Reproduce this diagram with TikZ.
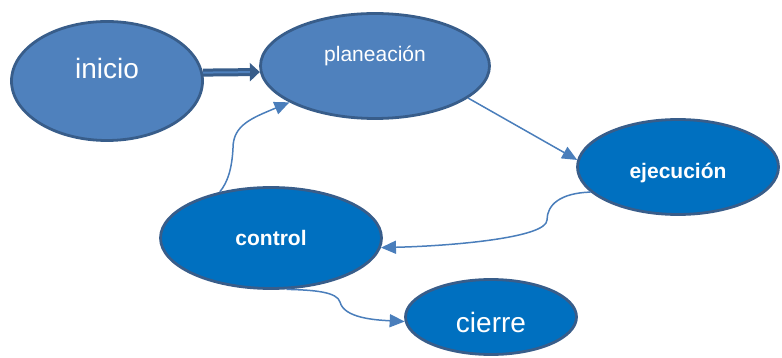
\documentclass[tikz,border=0pt]{standalone}
\usepackage{fontspec}
\setmainfont{Liberation Sans}
\usetikzlibrary{shapes.geometric}
\usetikzlibrary{arrows.meta}

\definecolor{lightphase}{HTML}{4F81BD}
\definecolor{darkphase}{HTML}{0070C0}
\definecolor{phaseborder}{HTML}{385D8A}
\definecolor{flowline}{HTML}{4A7EBB}

\begin{document}
\begin{tikzpicture}[x=1pt,y=-1pt]
\tikzset{phase/.style={ellipse, draw=phaseborder, line width=2.8pt, inner sep=0pt}}
\tikzset{softphase/.style={phase, fill=lightphase}}
\tikzset{strongphase/.style={phase, fill=darkphase}}
\tikzset{phasetext/.style={text=white, inner sep=0pt, font=\fontsize{21}{25}\selectfont}}
\tikzset{boldtext/.style={phasetext, font=\fontsize{21}{25}\selectfont\bfseries}}
\tikzset{bigtext/.style={phasetext, font=\fontsize{28}{33}\selectfont}}
\tikzset{flow/.style={draw=flowline, line width=1.5pt, -{Triangle[length=15pt,width=13pt]}}}
\tikzset{mainflow/.style={draw=phaseborder, line width=8pt, -{Triangle[length=10pt,width=18pt]}}}

\useasboundingbox (0,0) rectangle (782,358);

\node[softphase, minimum width=191pt, minimum height=119pt,
  label={[bigtext,yshift=13pt]center:inicio}] (inicio) at (107,81) {};
\node[softphase, minimum width=229pt, minimum height=105pt,
  label={[phasetext,yshift=10pt]center:planeación}] (planeacion) at (375,66) {};
\node[strongphase, minimum width=201pt, minimum height=95pt,
  label={[boldtext,yshift=-6pt]center:ejecución}] (ejecucion) at (678,167) {};
\node[strongphase, minimum width=221pt, minimum height=101pt,
  label={[boldtext]center:control}] (control) at (271,238) {};
\node[strongphase, minimum width=171pt, minimum height=75pt,
  label={[bigtext,yshift=-5pt]center:cierre}] (cierre) at (491,317) {};

% flechas
\draw[mainflow] (inicio.5) -- (planeacion.183.5);
\draw[draw=lightphase, line width=2pt, shorten >=10pt] (inicio.5) -- (planeacion.183.5);
\draw[flow] (planeacion.-19) -- (ejecucion.176);
\draw[flow] (ejecucion.196) .. controls (560,193) and (547,205) .. (547,220)
  .. controls (547,238) and (450,246) .. (control.-5);
\draw[flow] (control.138) .. controls (228,182) and (232,168) .. (233,148)
  .. controls (233,125) and (252,118) .. (planeacion.203);
\draw[flow] (control.-73) .. controls (315,290) and (337,292) .. (340,302)
  .. controls (344,318) and (375,320) .. (cierre.183);
\end{tikzpicture}
\end{document}
